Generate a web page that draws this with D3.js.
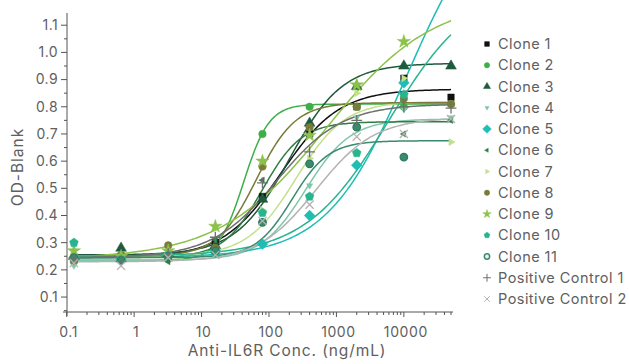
<!DOCTYPE html>
<html>
<head>
<meta charset="utf-8">
<script src="https://cdn.jsdelivr.net/npm/d3@7"></script>
<style>
  body { margin: 0; background: #fff; }
  svg { font-family: Inter, "Open Sans", sans-serif; }
</style>
</head>
<body>
<div id="chart"></div>
<script>
// concentrations (ng/mL)
var conc = [0.128, 0.64, 3.2, 16, 80, 400, 2000, 10000, 50000];

var seriesNames = ["Clone 1", "Clone 2", "Clone 3", "Clone 4", "Clone 5", "Clone 6", "Clone 7",
                   "Clone 8", "Clone 9", "Clone 10", "Clone 11", "Positive Control 1", "Positive Control 2"];

// measured OD-Blank values
var clone1  = [0.24, 0.25, 0.25, 0.30, 0.47, 0.70, 0.80, 0.905, 0.835];
var clone2  = [0.23, 0.24, 0.24, 0.26, 0.70, 0.80, 0.80, 0.80, 0.81];
var clone3  = [0.25, 0.28, 0.26, 0.29, 0.46, 0.74, 0.875, 0.95, 0.95];
var clone4  = [0.215, 0.23, 0.245, 0.27, 0.375, 0.51, 0.76, 0.79, 0.76];
var clone5  = [0.245, 0.24, 0.255, 0.27, 0.295, 0.40, 0.585, 0.888, null];
var clone6  = [0.25, 0.25, 0.23, 0.31, 0.53, 0.73, 0.80, 0.70, 0.75];
var clone7  = [0.26, 0.25, 0.26, 0.28, 0.42, 0.61, 0.85, 0.905, 0.67];
var clone8  = [0.235, 0.255, 0.29, 0.28, 0.58, 0.725, 0.80, 0.83, 0.81];
var clone9  = [0.27, 0.25, 0.27, 0.36, 0.60, 0.695, 0.88, 1.04, null];
var clone10 = [0.30, 0.24, 0.255, 0.26, 0.41, 0.47, 0.63, 0.845, null];
var clone11 = [0.245, 0.235, 0.25, 0.27, 0.375, 0.59, 0.725, 0.615, null];
var posCtrl1 = [0.24, 0.23, 0.26, 0.32, 0.52, 0.634, 0.75, 0.80, 0.795];
var posCtrl2 = [0.225, 0.215, 0.245, 0.255, 0.38, 0.44, 0.69, 0.70, 0.755];

var seriesValues = [clone1, clone2, clone3, clone4, clone5, clone6, clone7,
                    clone8, clone9, clone10, clone11, posCtrl1, posCtrl2];

// 4PL fit parameters
var fitBottom = [0.245, 0.235, 0.255, 0.235, 0.245, 0.245, 0.25, 0.25, 0.24, 0.25, 0.245, 0.245, 0.23];
var fitTop    = [0.865, 0.81, 0.96, 0.755, 1.6, 0.745, 0.82, 0.815, 1.2, 1.25, 0.675, 0.81, 0.76];
var fitEC50   = [150, 42, 200, 350, 11400, 80, 250, 65, 700, 6000, 220, 130, 500];
var fitHill   = [1.0, 2.3, 1.1, 1.3, 0.72, 1.5, 1.2, 1.5, 0.55, 0.7, 1.6, 0.9, 1.0];

var yTicks = [0.1, 0.2, 0.3, 0.4, 0.5, 0.6, 0.7, 0.8, 0.9, 1.0, 1.1];
var xTicks = [0.1, 1, 10, 100, 1000, 10000];

// styles
var colors = ["#111111", "#3fae49", "#1f5a3e", "#80c6aa", "#20bdb5", "#2f7d45", "#c3e08a",
              "#7a7a3a", "#8cc14b", "#28b48f", "#3a8a6e", "#6f6f6f", "#b3b3b3"];
var triDown = { draw: function(ctx, size) { rotSym(ctx, size, 180); } };
var triLeft = { draw: function(ctx, size) { rotSym(ctx, size, -90); } };
var triRight = { draw: function(ctx, size) { rotSym(ctx, size, 90); } };
function rotSym(ctx, size, deg) {
    var r = Math.sqrt(size / (3 * Math.sqrt(3) / 4)) / Math.sqrt(3);  // circumradius
    for (var k = 0; k < 3; k++) {
        var a = (deg - 90 + k * 120) * Math.PI / 180;
        var px = r * Math.cos(a), py = r * Math.sin(a);
        if (k === 0) ctx.moveTo(px, py); else ctx.lineTo(px, py);
    }
    ctx.closePath();
}
var pentagon = { draw: function(ctx, size) {
    var r = Math.sqrt(size / 2.378);
    for (var k = 0; k < 5; k++) {
        var a = (-90 + k * 72) * Math.PI / 180;
        if (k === 0) ctx.moveTo(r * Math.cos(a), r * Math.sin(a));
        else ctx.lineTo(r * Math.cos(a), r * Math.sin(a));
    }
    ctx.closePath();
} };
// square turned 45 degrees
var diamond = { draw: function(ctx, size) {
    var r = Math.sqrt(size / 2);
    ctx.moveTo(0, -r); ctx.lineTo(r, 0); ctx.lineTo(0, r); ctx.lineTo(-r, 0);
    ctx.closePath();
} };
var symbols = [d3.symbolSquare, d3.symbolCircle, d3.symbolTriangle, triDown, diamond, triLeft, triRight,
               d3.symbolCircle, d3.symbolStar, pentagon, d3.symbolCircle, d3.symbolPlus, d3.symbolTimes];
var symSize = [42, 45, 50, 50, 58, 50, 65, 45, 55, 50, 45, 40, 45];

var width = 629, height = 364;
var svg = d3.select("#chart").append("svg")
    .attr("width", width)
    .attr("height", height);

var x = d3.scaleLog().domain([0.1, 50000]).range([66.7, 451]);
var y = d3.scaleLinear().domain([0.045, 1.145]).range([312, 13]);

var axisColor = "#555";
var textColor = "#606060";

// y axis
var yAxis = svg.append("g");
yAxis.append("line").attr("x1", 67).attr("x2", 67).attr("y1", 13).attr("y2", 316)
    .attr("stroke", axisColor);
var yMinor = d3.range(0.05, 1.15, 0.1);
yAxis.selectAll(".ymin").data(yMinor).enter().append("line")
    .attr("x1", 64).attr("x2", 67)
    .attr("y1", d => y(d)).attr("y2", d => y(d))
    .attr("stroke", axisColor);
yAxis.selectAll(".ymaj").data(yTicks).enter().append("line")
    .attr("x1", 61).attr("x2", 67)
    .attr("y1", d => y(d)).attr("y2", d => y(d))
    .attr("stroke", axisColor);
yAxis.selectAll("text").data(yTicks).enter().append("text")
    .attr("x", 58).attr("y", d => y(d)).attr("dy", "0.35em")
    .attr("text-anchor", "end")
    .attr("font-size", 14).attr("letter-spacing", 0.4).attr("fill", textColor)
    .text(d => d.toFixed(1));

// x axis
var xAxis = svg.append("g");
xAxis.append("line").attr("x1", 63).attr("x2", 453).attr("y1", 312).attr("y2", 312)
    .attr("stroke", axisColor);
var xMinor = [];
for (var dec = 0.1; dec <= 10000; dec *= 10) {
    for (var m = 2; m <= 9; m++) { if (dec * m <= 50000) xMinor.push(dec * m); }
}
xAxis.selectAll(".xmin").data(xMinor).enter().append("line")
    .attr("x1", d => x(d)).attr("x2", d => x(d))
    .attr("y1", 312).attr("y2", 315)
    .attr("stroke", axisColor);
xAxis.selectAll(".xmaj").data(xTicks).enter().append("line")
    .attr("x1", d => x(d)).attr("x2", d => x(d))
    .attr("y1", 312).attr("y2", 317)
    .attr("stroke", axisColor);
xAxis.selectAll("text").data(xTicks).enter().append("text")
    .attr("x", d => x(d) + 2).attr("y", 337)
    .attr("text-anchor", "middle")
    .attr("font-size", 14).attr("letter-spacing", 0.6).attr("fill", textColor)
    .text(d => d < 1 ? d.toString() : d3.format("d")(d));

// axis titles
svg.append("text")
    .attr("x", 287).attr("y", 356)
    .attr("text-anchor", "middle")
    .attr("font-size", 15.5).attr("letter-spacing", 0.9).attr("fill", textColor)
    .text("Anti-IL6R Conc. (ng/mL)");
svg.append("text")
    .attr("transform", "translate(23,167) rotate(-90)")
    .attr("text-anchor", "middle")
    .attr("font-size", 15.5).attr("letter-spacing", 1).attr("fill", textColor)
    .text("OD-Blank");

// fitted curves
function fourPL(i, c) {
    return fitBottom[i] + (fitTop[i] - fitBottom[i]) / (1 + Math.pow(fitEC50[i] / c, fitHill[i]));
}
var logGrid = d3.range(0, 201).map(k => Math.pow(10, Math.log10(conc[0]) +
    k / 200 * (Math.log10(conc[conc.length - 1]) - Math.log10(conc[0]))));
var line = d3.line().x(d => x(d[0])).y(d => y(d[1]));
svg.append("g").selectAll("path")
    .data(seriesNames)
    .enter().append("path")
    .attr("d", (d, i) => line(logGrid.map(c => [c, fourPL(i, c)])))
    .attr("fill", "none")
    .attr("stroke", (d, i) => colors[i])
    .attr("stroke-width", 1.5);

// data points
var points = svg.append("g");
seriesNames.forEach(function(name, i) {
    var pts = conc.map((c, j) => [c, seriesValues[i][j]]).filter(p => p[1] !== null);
    var open = (i >= 11);
    points.append("g").selectAll("path")
        .data(pts)
        .enter().append("path")
        .attr("transform", d => "translate(" + x(d[0]) + "," + y(d[1]) + ")")
        .attr("d", d3.symbol().type(symbols[i]).size(symSize[i]))
        .attr("fill", open ? "none" : colors[i])
        .attr("stroke", i === 10 ? "#2f7a5e" : colors[i])
        .attr("stroke-width", open ? 1.3 : (i === 10 ? 1.2 : 0.5));
});

// legend
var legend = svg.append("g");
seriesNames.forEach(function(name, i) {
    var ly = 44 + i * 21.25;
    var open = (i >= 11);
    var ls = i === 4 ? 38 : (i === 6 ? 28 : 22);
    legend.append("path")
        .attr("transform", "translate(487," + ly + ")")
        .attr("d", d3.symbol().type(symbols[i]).size(ls))
        .attr("fill", open ? "none" : (i === 10 ? "#e8f2ee" : colors[i]))
        .attr("stroke", i === 10 ? "#3a8a6e" : colors[i])
        .attr("stroke-width", open ? 1 : (i === 10 ? 1.5 : 0.5));
    legend.append("text")
        .attr("x", 498).attr("y", ly).attr("dy", "0.35em")
        .attr("font-size", 14.5).attr("letter-spacing", 0.45).attr("fill", textColor)
        .text(name);
});
</script>
</body>
</html>
